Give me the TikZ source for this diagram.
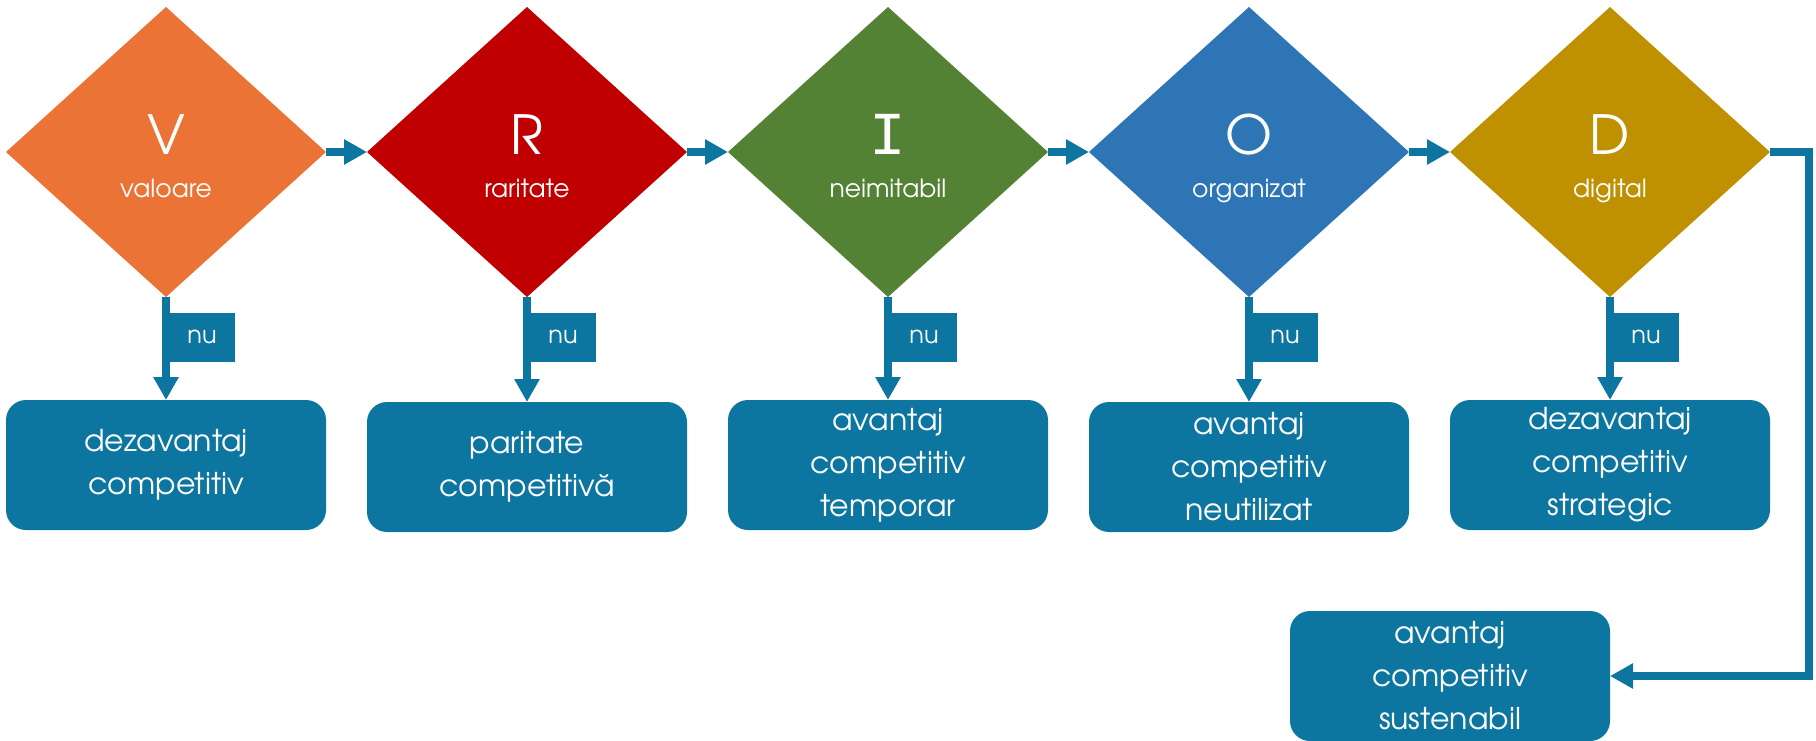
\documentclass[tikz,border=0pt]{standalone}
\usepackage{fontspec}
\setmainfont{TeX Gyre Adventor}
\newfontfamily\slabfont{Liberation Mono}
\usepackage{tikz}
\usetikzlibrary{positioning,shapes.geometric,arrows.meta}

\definecolor{vorange}{HTML}{EA7335}
\definecolor{vred}{HTML}{C00000}
\definecolor{vgreen}{HTML}{548235}
\definecolor{vblue}{HTML}{2E75B6}
\definecolor{vgold}{HTML}{BF9000}
\definecolor{vteal}{HTML}{0C76A0}

\tikzset{
  test/.style={shape=diamond, minimum width=320pt, minimum height=290pt, inner sep=0pt, outer sep=0pt},
  letter/.style={text=white, anchor=base, font=\fontsize{54}{54}\selectfont},
  crit/.style={text=white, anchor=base, font=\fontsize{25}{25}\selectfont},
  result/.style={fill=vteal, rounded corners=20pt, minimum width=320pt, minimum height=130pt, outer sep=0pt, text=white, align=center, font=\fontsize{30}{43}\selectfont},
  nobox/.style={fill=vteal, minimum width=65pt, minimum height=49pt, inner sep=0pt, text=white, font=\fontsize{24}{24}\selectfont},
  flow/.style={draw=vteal, line width=7.5pt, -{Triangle[width=24pt,length=23pt]}},
}

\begin{document}
\begin{tikzpicture}
\useasboundingbox (0,0) rectangle (1816pt,-741pt);
% the five tests
\node[test, fill=vorange] (v) at (166pt,-152pt) {};
\node[test, fill=vred, right of=v, node distance=361pt] (r) {};
\node[test, fill=vgreen, right of=r, node distance=361pt] (i) {};
\node[test, fill=vblue, right of=i, node distance=361pt] (o) {};
\node[test, fill=vgold, right of=o, node distance=361pt] (d) {};
\node[letter] (vt) at ([yshift=-3pt] v.center) {V};
\node[letter] (rt) at ([yshift=-3pt] r.center) {R};
\node[letter, font=\slabfont\fontsize{61}{61}\selectfont] (it) at ([yshift=-3pt] i.center) {I};
\node[letter] (ot) at ([yshift=-3pt] o.center) {O};
\node[letter] (dt) at ([yshift=-3pt] d.center) {D};
\node[crit] (vc) at ([yshift=-45pt] v.center) {valoare};
\node[crit] (rc) at ([yshift=-45pt] r.center) {raritate};
\node[crit] (ic) at ([yshift=-45pt] i.center) {neimitabil};
\node[crit] (oc) at ([yshift=-45pt] o.center) {organizat};
\node[crit] (dc) at ([yshift=-45pt] d.center) {digital};
% outcomes
\node[result, below of=v, node distance=313pt] (bv) {dezavantaj\\competitiv};
\node[result, below of=r, node distance=315pt] (br) {paritate\\competitivă};
\node[result, below of=i, node distance=313pt] (bi) {avantaj\\competitiv\\temporar};
\node[result, below of=o, node distance=315pt] (bo) {avantaj\\competitiv\\neutilizat};
\node[result, below of=d, node distance=313pt] (bd) {dezavantaj\\competitiv\\strategic};
\node[result, below of=bd, node distance=211pt, xshift=-160pt] (bs) {avantaj\\competitiv\\sustenabil};
% "nu" tags
\node[nobox, below of=v, node distance=185pt, xshift=36pt] (nv) {nu};
\node[nobox, below of=r, node distance=185pt, xshift=36pt] (nr) {nu};
\node[nobox, below of=i, node distance=185pt, xshift=36pt] (ni) {nu};
\node[nobox, below of=o, node distance=185pt, xshift=36pt] (no) {nu};
\node[nobox, below of=d, node distance=185pt, xshift=36pt] (nd) {nu};
\coordinate[right of=d, node distance=199pt] (turn);
\draw[flow] (v.east) -- (r.west);
\draw[flow] (r.east) -- (i.west);
\draw[flow] (i.east) -- (o.west);
\draw[flow] (o.east) -- (d.west);
\draw[flow] (v.south) -- (bv.north);
\draw[flow] (r.south) -- (br.north);
\draw[flow] (i.south) -- (bi.north);
\draw[flow] (o.south) -- (bo.north);
\draw[flow] (d.south) -- (bd.north);
\draw[flow] (d.east) -- (turn) |- (bs.east);
\end{tikzpicture}
\end{document}
